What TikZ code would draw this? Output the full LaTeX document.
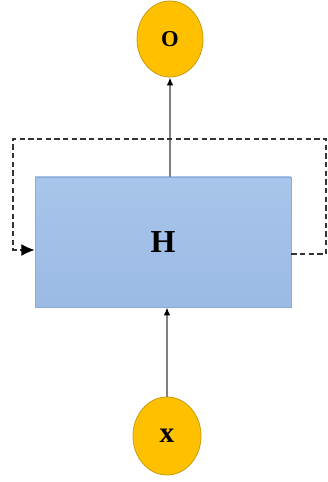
\documentclass[tikz,border=0pt]{standalone}
\usepackage{fontspec}
\setmainfont{Liberation Serif}
\usepackage{xcolor}
\usetikzlibrary{arrows.meta, positioning, shapes.geometric}

\definecolor{boxblue}{HTML}{A8C5EB}
\definecolor{boxblue2}{HTML}{9BBAE4}
\definecolor{boxedge}{HTML}{8AACDA}
\definecolor{ballfill}{HTML}{FFC000}
\definecolor{balledge}{HTML}{C99A10}

\begin{document}
\begin{tikzpicture}[
			x=0.75pt, y=0.75pt,
			unit/.style={ellipse, draw=balledge, fill=ballfill, line width=0.6pt,
				inner sep=0pt, font=\bfseries},
			hbox/.style={rectangle, draw=boxedge, top color=boxblue, bottom color=boxblue2,
				line width=0.6pt, minimum width=192pt, minimum height=97.5pt,
				inner sep=0pt, font=\fontsize{24}{28}\selectfont\bfseries},
			arr/.style={-{Latex[length=6pt,width=5pt,color=black]}, draw=black!50, line width=1.3pt},
			fb/.style={-{Latex[length=10pt,width=9pt,color=black]}, draw=black!80, line width=0.9pt,
				dash pattern=on 4pt off 2.5pt}
			]
			\useasboundingbox (0,0) rectangle (328,482);
			
			\node[hbox] (H) at (163,240) {H};
			\node[unit, minimum width=49.5pt, minimum height=57pt, font=\fontsize{17}{20}\selectfont\bfseries] (O) at (170,443) {O};
			\node[unit, minimum width=51pt, minimum height=58.5pt, font=\fontsize{22}{26}\selectfont\bfseries] (x) at (167,46) {x};
			
			% feedback loop corners
			\coordinate (tr) at (326,343);
			\coordinate (tl) at (13,343);
			\coordinate (lvl) at (0,228);
			\coordinate (lin) at (0,232);
			
			\draw[arr] (x.north) -- (x.north |- H.south);
			\draw[arr] (O.south |- H.north) -- (O.south);
			
			\draw[fb] (H.east |- lvl) -| (tr) -- (tl) |- (H.west |- lin);
		\end{tikzpicture}
\end{document}
